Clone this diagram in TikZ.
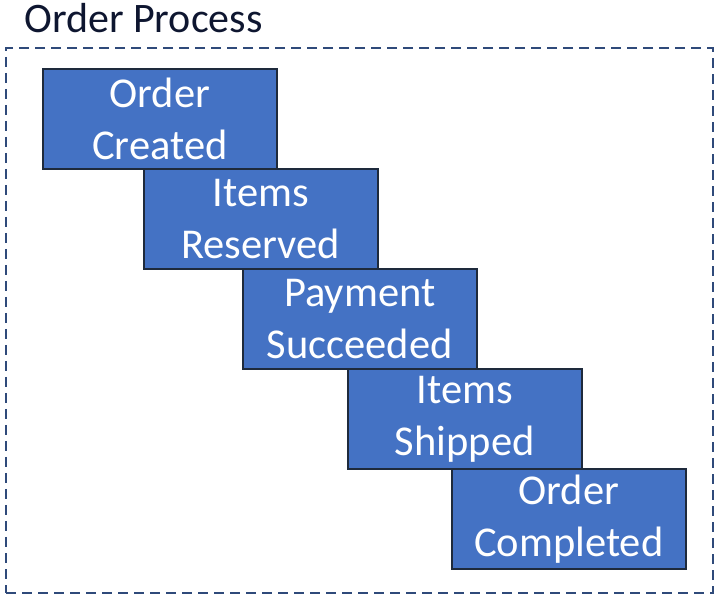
\documentclass[tikz,border=0pt]{standalone}
\usepackage{fontspec}
\setmainfont{Carlito}
\definecolor{boxblue}{HTML}{4472C4}
\definecolor{boxedge}{HTML}{1E2A3C}
\definecolor{frameblue}{HTML}{2F4A7A}
\definecolor{titlecol}{HTML}{0E1630}
\begin{document}
\begin{tikzpicture}[x=1pt,y=1pt,
  stepbox/.style={draw=boxedge, line width=1.6pt, fill=boxblue, text=white,
    minimum width=234pt, minimum height=100pt, inner sep=0pt, anchor=north west,
    align=center, font=\fontsize{42.5}{52}\selectfont},
  frame/.style={draw=frameblue, line width=2pt, dash pattern=on 10pt off 6pt}]
\useasboundingbox (0,0) rectangle (719,599);
\node[anchor=base west, text=titlecol, font=\fontsize{42}{46}\selectfont, inner sep=0pt] (title) at (24,566) {Order Process};
\node[frame, minimum width=707pt, minimum height=545pt, anchor=north west, inner sep=0pt] (frm) at (5,552) {};
\node[stepbox] (s1) at (42,531) {Order\\Created};
\node[stepbox] (s2) at (143,431) {Items\\Reserved};
\node[stepbox] (s3) at (242,331) {Payment\\Succeeded};
\node[stepbox] (s4) at (347,231) {Items\\Shipped};
\node[stepbox] (s5) at (451,131) {Order\\Completed};
\end{tikzpicture}
\end{document}
